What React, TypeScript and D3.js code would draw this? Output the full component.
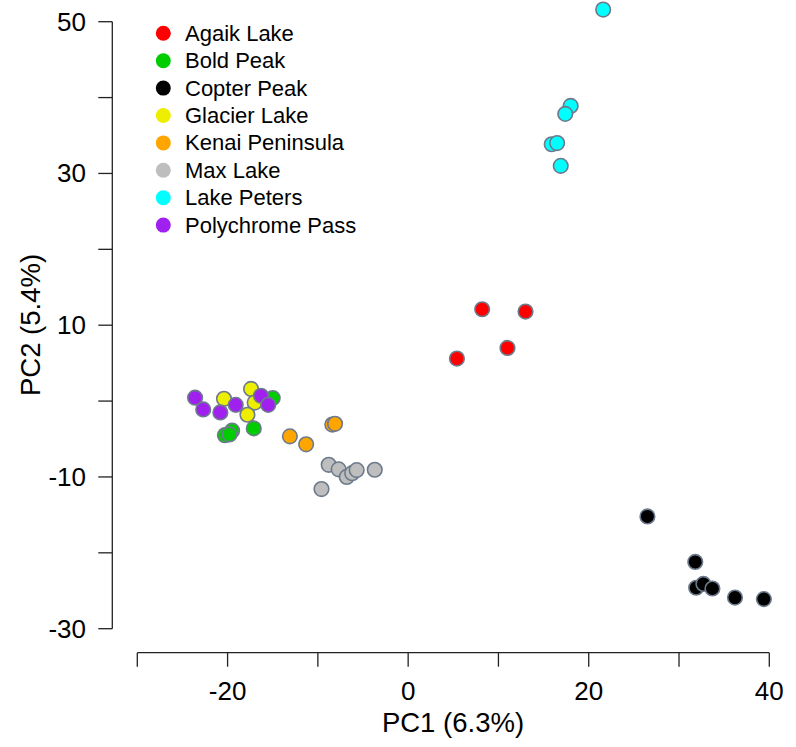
import React from "react";
import * as d3 from "d3";

const groups = [
  "Agaik Lake",
  "Bold Peak",
  "Copter Peak",
  "Glacier Lake",
  "Kenai Peninsula",
  "Max Lake",
  "Lake Peters",
  "Polychrome Pass",
];
const colors = ["#FF0000", "#00CD00", "#000000", "#EEEE00", "#FFA500", "#BEBEBE", "#00FFFF", "#A020F0"];

const agaik: [number, number][] = [[8.2, 12.1], [13.0, 11.8], [11.0, 7.0], [5.4, 5.6]];
const boldPeak: [number, number][] = [[-15.0, 0.4], [-20.3, -4.5], [-19.5, -3.9], [-19.8, -4.4], [-17.1, -3.6]];
const copterPeak: [number, number][] = [[26.5, -15.2], [31.8, -21.2], [31.9, -24.6], [32.7, -24.1], [33.7, -24.7], [36.2, -25.9], [39.4, -26.1]];
const glacierLake: [number, number][] = [[-20.4, 0.3], [-17.4, 1.6], [-17.0, -0.2], [-17.8, -1.8]];
const kenai: [number, number][] = [[-13.1, -4.65], [-11.3, -5.7], [-8.4, -3.1], [-8.1, -3.0]];
const maxLake: [number, number][] = [[-8.8, -8.4], [-7.7, -9.0], [-6.8, -10.0], [-6.2, -9.5], [-5.7, -9.1], [-3.7, -9.05], [-9.6, -11.6]];
const lakePeters: [number, number][] = [[21.6, 51.6], [18.0, 38.9], [17.4, 37.85], [15.9, 33.85], [16.5, 34.0], [16.9, 31.0]];
const polychrome: [number, number][] = [[-23.6, 0.45], [-22.7, -1.1], [-20.8, -1.5], [-19.1, -0.5], [-16.3, 0.7], [-15.5, -0.5]];

const series = [agaik, boldPeak, copterPeak, glacierLake, kenai, maxLake, lakePeters, polychrome];

const xTicks = [-30, -20, -10, 0, 10, 20, 30, 40];
const xLabels = [-20, 0, 20, 40];
const yTicks = [-30, -20, -10, 0, 10, 20, 30, 40, 50];
const yLabels = [-30, -10, 10, 30, 50];

export default function App() {
  const W = 796, H = 747;
  const x = d3.scaleLinear().domain([-30, 40]).range([137.3, 769.3]);
  const y = d3.scaleLinear().domain([-30, 50]).range([628.7, 21.7]);
  const font = "'Liberation Sans', Arial, Helvetica, sans-serif";
  const axisY = 652.7;
  const axisX = 112.3;
  return (
    <svg width={W} height={H} style={{ position: "absolute", left: 0, top: 0, background: "#fff" }} fontFamily={font}>
      <rect width={W} height={H} fill="#fff" />
      {/* x axis */}
      <line x1={x(-30)} x2={x(40)} y1={axisY} y2={axisY} stroke="#222" strokeWidth={1.3} />
      {xTicks.map((t) => (
        <line key={t} x1={x(t)} x2={x(t)} y1={axisY} y2={axisY + 14} stroke="#222" strokeWidth={1.3} />
      ))}
      {xLabels.map((t) => (
        <text key={t} x={x(t)} y={691} textAnchor="middle" dominantBaseline="central" fontSize={26}>{t}</text>
      ))}
      <text x={453} y={722} textAnchor="middle" dominantBaseline="central" fontSize={27.5}>PC1 (6.3%)</text>
      {/* y axis */}
      <line x1={axisX} x2={axisX} y1={y(-30)} y2={y(50)} stroke="#222" strokeWidth={1.3} />
      {yTicks.map((t) => (
        <line key={t} x1={axisX - 14} x2={axisX} y1={y(t)} y2={y(t)} stroke="#222" strokeWidth={1.3} />
      ))}
      {yLabels.map((t) => (
        <text key={t} x={86} y={y(t)} textAnchor="end" dominantBaseline="central" fontSize={26}>{t}</text>
      ))}
      <text transform={`translate(30,325) rotate(-90)`} textAnchor="middle" dominantBaseline="central" fontSize={27.5}>PC2 (5.4%)</text>
      {/* points */}
      {series.map((s, gi) =>
        s.map((p, i) => (
          <circle key={`${gi}-${i}`} cx={x(p[0])} cy={y(p[1])} r={7.3} fill={colors[gi]} stroke="#6C7A8C" strokeWidth={1.6} />
        ))
      )}
      {/* legend */}
      {groups.map((g, i) => (
        <g key={g} transform={`translate(0,${33.3 + i * 27.4})`}>
          <circle cx={163.3} cy={0} r={7.5} fill={colors[i]} />
          <text x={185} y={0} dominantBaseline="central" fontSize={22}>{g}</text>
        </g>
      ))}
    </svg>
  );
}
